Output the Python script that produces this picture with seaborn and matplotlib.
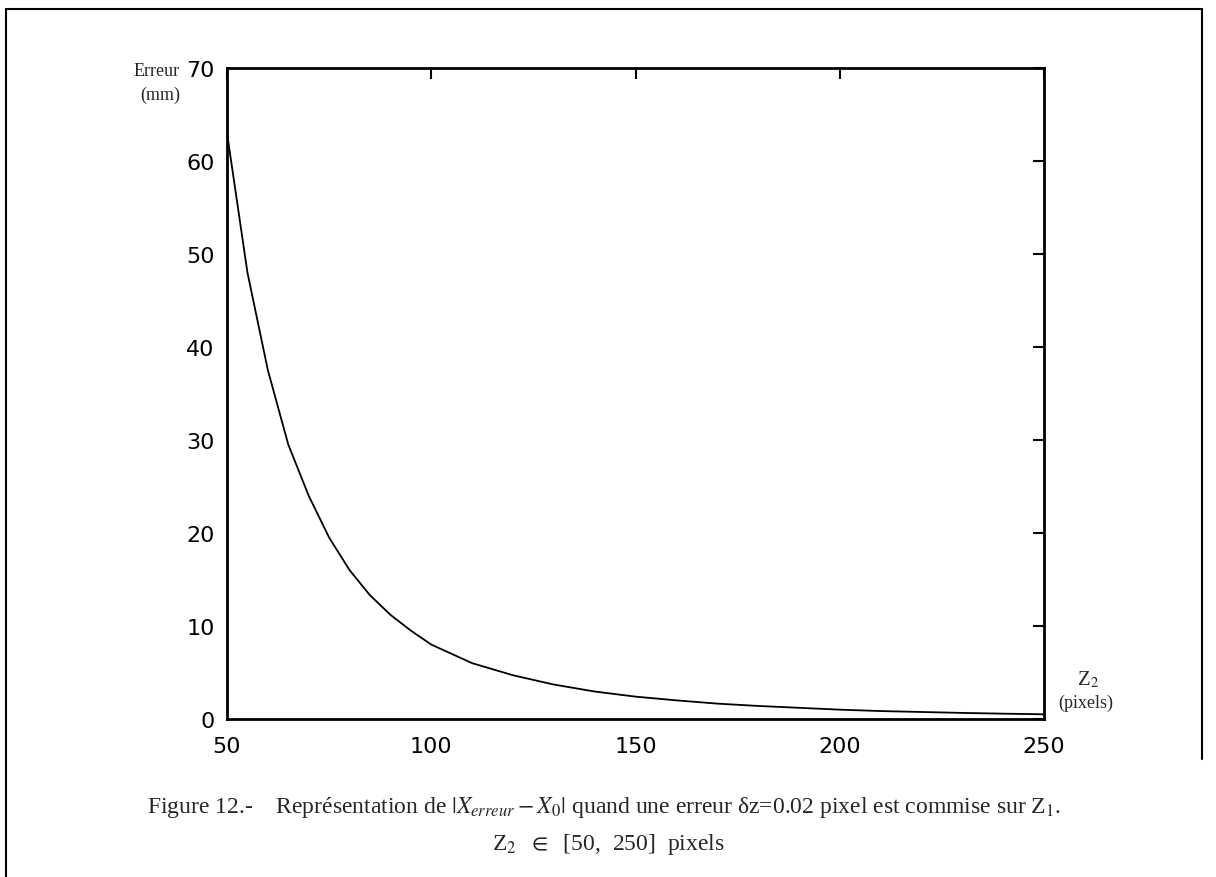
import matplotlib
matplotlib.use("Agg")
import matplotlib.pyplot as plt
import seaborn as sns
import pandas as pd

# values
z2_pixels = [50, 55, 60, 65, 70, 75, 80, 85, 90, 95, 100, 110, 120, 130, 140,
             150, 160, 170, 180, 190, 200, 210, 220, 230, 240, 250]
erreur_mm = [63.0, 48.0, 37.5, 29.5, 24.0, 19.5, 16.0, 13.3, 11.2, 9.5, 8.0,
             6.0, 4.7, 3.7, 2.95, 2.4, 2.0, 1.65, 1.4, 1.2, 1.0, 0.85, 0.75,
             0.65, 0.57, 0.5]
x_ticks = [50, 100, 150, 200, 250]
y_ticks = [0, 10, 20, 30, 40, 50, 60, 70]

df = pd.DataFrame({"Z2": z2_pixels, "Erreur": erreur_mm})

sns.set_style("white")
plt.rcParams["font.family"] = ["DejaVu Sans"]
plt.rcParams["mathtext.fontset"] = "stix"

fig = plt.figure(figsize=(12.16, 8.78), dpi=100)
ax = fig.add_axes([0.1867, 0.18, 0.6719, 0.7414])

sns.lineplot(data=df, x="Z2", y="Erreur", ax=ax, color="black", linewidth=1.3)

ax.set_xlim(50, 250)
ax.set_ylim(0, 70)
ax.set_xticks(x_ticks)
ax.set_yticks(y_ticks)
ax.set_xlabel("")
ax.set_ylabel("")
for s in ax.spines.values():
    s.set_visible(True)
    s.set_color("black")
    s.set_linewidth(2)
ax.tick_params(direction="in", top=True, right=True, length=8, width=1.5,
               labelsize=16, colors="black")
ax.tick_params(axis="x", pad=12)
ax.tick_params(axis="y", pad=9)

# axis labels placed like in the scan
fig.text(180 / 1216, 1 - 72 / 878, "Erreur", family="Liberation Serif",
         fontsize=13, ha="right", va="center")
fig.text(180 / 1216, 1 - 95 / 878, "(mm)", family="Liberation Serif",
         fontsize=13, ha="right", va="center")
fig.text(1088 / 1216, 1 - 680 / 878, "Z$_2$", family="Liberation Serif",
         fontsize=15, ha="center", va="center")
fig.text(1086 / 1216, 1 - 703 / 878, "(pixels)", family="Liberation Serif",
         fontsize=13, ha="center", va="center")

# caption
fig.text(0.497, 1 - 808 / 878,
         "Figure 12.-    Représentation de $|X_{erreur} - X_0|$ quand une erreur "
         "δz=0.02 pixel est commise sur Z$_1$.",
         family="Liberation Serif", fontsize=17, ha="center", va="center")
fig.text(0.5, 1 - 845 / 878, r"Z$_2$  $\in$  [50,  250]  pixels",
         family="Liberation Serif", fontsize=17, ha="center", va="center")

# page frame of the scan
frame_kw = dict(color="black", linewidth=1.5, transform=fig.transFigure)
fig.add_artist(plt.Line2D([6 / 1216, 6 / 1216], [0, 1 - 10 / 878], **frame_kw))
fig.add_artist(plt.Line2D([6 / 1216, 1202 / 1216], [1 - 10 / 878, 1 - 10 / 878], **frame_kw))
fig.add_artist(plt.Line2D([1202 / 1216, 1202 / 1216], [1 - 10 / 878, 1 - 760 / 878], **frame_kw))

fig.savefig("out.png", dpi=100, facecolor="white")
